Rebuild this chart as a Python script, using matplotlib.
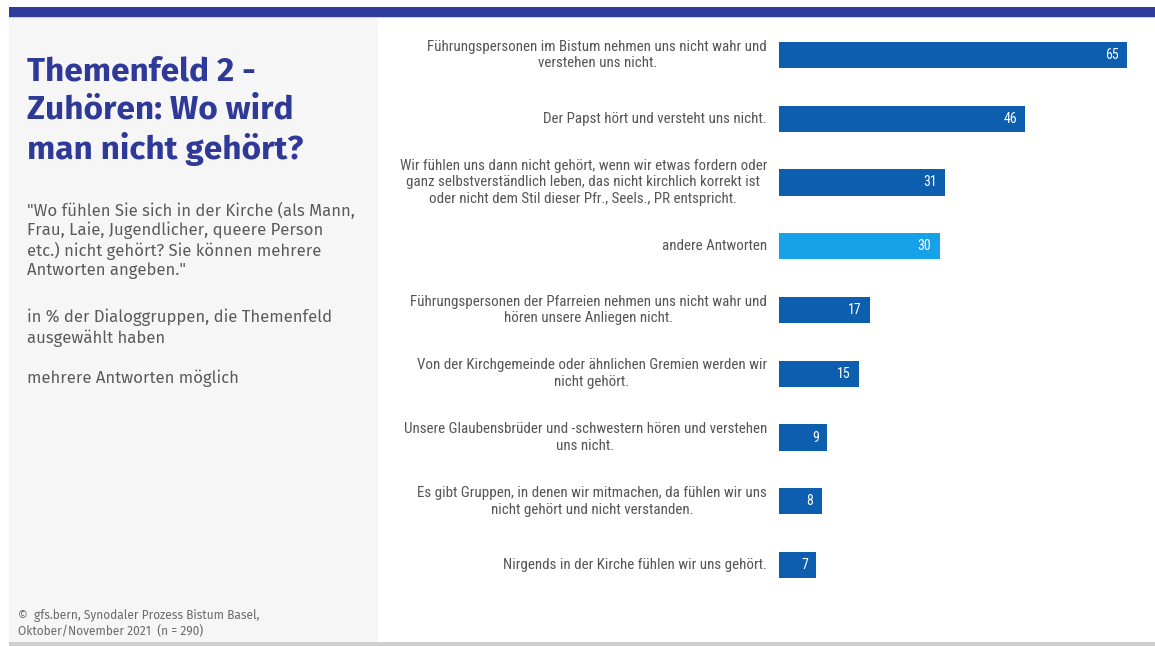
import matplotlib
matplotlib.use("Agg")
import matplotlib.pyplot as plt
from matplotlib.patches import Rectangle
from matplotlib.transforms import blended_transform_factory

categories = [
    "Führungspersonen im Bistum nehmen uns nicht wahr und\nverstehen uns nicht.",
    "Der Papst hört und versteht uns nicht.",
    "Wir fühlen uns dann nicht gehört, wenn wir etwas fordern oder\nganz selbstverständlich leben, das nicht kirchlich korrekt ist\noder nicht dem Stil dieser Pfr., Seels., PR entspricht.",
    "andere Antworten",
    "Führungspersonen der Pfarreien nehmen uns nicht wahr und\nhören unsere Anliegen nicht.",
    "Von der Kirchgemeinde oder ähnlichen Gremien werden wir\nnicht gehört.",
    "Unsere Glaubensbrüder und -schwestern hören und verstehen\nuns nicht.",
    "Es gibt Gruppen, in denen wir mitmachen, da fühlen wir uns\nnicht gehört und nicht verstanden.",
    "Nirgends in der Kirche fühlen wir uns gehört.",
]
values = [65, 46, 31, 30, 17, 15, 9, 8, 7]
highlight = [False, False, False, True, False, False, False, False, False]

title = "Themenfeld 2 -\nZuhören: Wo wird\nman nicht gehört?"
question = ("\"Wo fühlen Sie sich in der Kirche (als Mann,\nFrau, Laie, Jugendlicher, queere Person\n"
            "etc.) nicht gehört? Sie können mehrere\nAntworten angeben.\"")
note1 = "in % der Dialoggruppen, die Themenfeld\nausgewählt haben"
note2 = "mehrere Antworten möglich"
source = "©  gfs.bern, Synodaler Prozess Bistum Basel,\nOktober/November 2021  (n = 290)"

W, H = 1155, 646
fig = plt.figure(figsize=(W / 100, H / 100), dpi=100)
fig.patch.set_facecolor("white")

def fx(px):
    return px / W

def fy(py):
    return 1 - py / H

# left grey panel
fig.add_artist(Rectangle((fx(9), fy(642)), fx(378 - 9), (642 - 17) / H,
                         transform=fig.transFigure, facecolor="#f6f6f6", edgecolor="none", zorder=0))
# top bar
fig.add_artist(Rectangle((fx(9), fy(17)), fx(W - 9), 10 / H,
                         transform=fig.transFigure, facecolor="#303c9c", edgecolor="none", zorder=1))
fig.add_artist(Rectangle((fx(9), fy(18)), fx(W - 9), 1.2 / H,
                         transform=fig.transFigure, facecolor="#c9d0ea", edgecolor="none", zorder=1))
# bottom grey line
fig.add_artist(Rectangle((fx(9), 0), fx(W - 9), 4 / H,
                         transform=fig.transFigure, facecolor="#cfcfcf", edgecolor="none", zorder=1))

title_font = ["Fira Sans", "Open Sans", "DejaVu Sans"]
body_font = ["Fira Sans", "Open Sans", "DejaVu Sans"]
cond_font = ["Liberation Sans Narrow", "Roboto Condensed", "Roboto", "DejaVu Sans"]

fig.text(fx(27), fy(56), title, family=title_font, fontweight="bold", fontsize=24,
         color="#2f3a98", va="top", ha="left", linespacing=1.24)
fig.text(fx(27), fy(202), question, family=body_font, fontsize=12, color="#5a5a5a",
         va="top", ha="left", linespacing=1.2)
fig.text(fx(27), fy(309), note1, family=body_font, fontsize=12, color="#5a5a5a",
         va="top", ha="left", linespacing=1.2)
fig.text(fx(27), fy(369), note2, family=body_font, fontsize=12, color="#5a5a5a",
         va="top", ha="left", linespacing=1.2)
fig.text(fx(18), fy(609), source, family=body_font, fontsize=8.6, color="#6a6a6a",
         va="top", ha="left", linespacing=1.3)

# bar axes
ax_left, ax_right = 779, 1150
ax_top, ax_bottom = 23, 597
ax = fig.add_axes([fx(ax_left), fy(ax_bottom), (ax_right - ax_left) / W, (ax_bottom - ax_top) / H])
ax.set_facecolor("none")
n = len(values)
ypos = list(range(n))
colors = ["#17a1e8" if h else "#0d5eae" for h in highlight]
ax.barh(ypos, values, height=0.41, color=colors, edgecolor="none")
ax.set_xlim(0, (ax_right - ax_left) / ((1127 - 779) / 65))
ax.set_ylim(n - 0.5, -0.5)
ax.axis("off")

trans = blended_transform_factory(ax.transAxes, ax.transData)
for i, (lab, v) in enumerate(zip(categories, values)):
    ax.text(-12 / (ax_right - ax_left), i, lab, transform=trans, ha="right", va="center",
            multialignment="center", family=cond_font, fontsize=10.8, color="#555555",
            linespacing=1.25)
    ax.annotate(str(v), xy=(v, i), xytext=(-6, 0), textcoords="offset points",
                ha="right", va="center", color="white", family=cond_font, fontsize=10)

fig.savefig("out.png", dpi=100, facecolor="white")
